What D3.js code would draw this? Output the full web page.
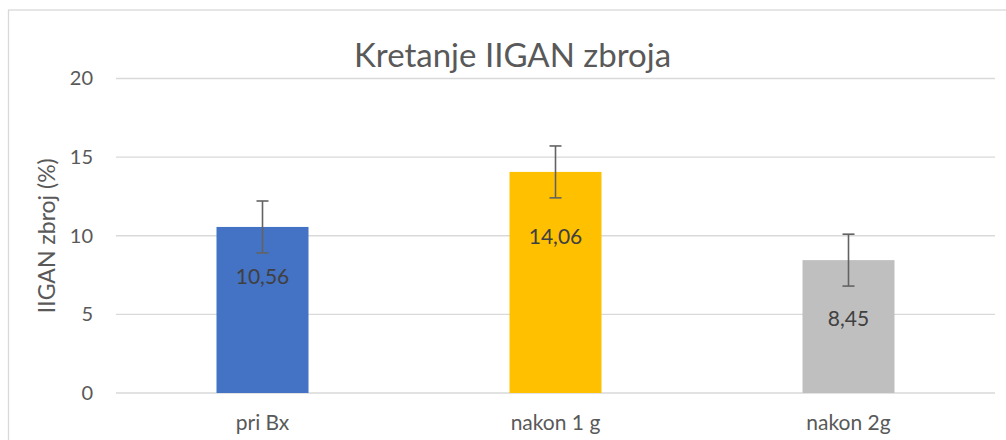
<!DOCTYPE html>
<html>
<head>
<meta charset="utf-8">
<script src="https://cdn.jsdelivr.net/npm/d3@7"></script>
<style>
  html, body { margin: 0; padding: 0; background: #fff; overflow: hidden; }
  text { font-family: Lato, "Open Sans", sans-serif; fill: #595959; }
</style>
</head>
<body>
<svg id="chart"></svg>
<script>
// data
const categories = ["pri Bx", "nakon 1 g", "nakon 2g"];
const values = [10.56, 14.06, 8.45];
const errors = [1.65, 1.65, 1.65];
const labels = ["10,56", "14,06", "8,45"];
const yTicks = [0, 5, 10, 15, 20];
const barColors = ["#4472C4", "#FFC000", "#BFBFBF"];
// how far below the bar top each value label sits (px)
const labelDrop = [49, 65, 58];

const svgWidth = 1006, svgHeight = 440;
const margin = {top: 78.5, right: 11, bottom: 47, left: 116},
    width = svgWidth - margin.left - margin.right,
    height = svgHeight - margin.top - margin.bottom;

const chart = d3.select("#chart")
    .attr("width", svgWidth)
    .attr("height", svgHeight);

// chart area border (runs off the right and bottom of the picture)
chart.append("rect")
    .attr("x", 8.5).attr("y", 10)
    .attr("width", 1020).attr("height", 460)
    .attr("fill", "none")
    .attr("stroke", "#D9D9D9")
    .attr("stroke-width", 1.3);

const g = chart.append("g")
    .attr("transform", `translate(${margin.left},${margin.top})`);

var xScale = d3.scaleBand().domain(categories).range([0, width])
    .paddingInner(0.686).paddingOuter(0.343);
var yScale = d3.scaleLinear().domain([0, 20]).range([height, 0]);

// gridlines
g.append("g").selectAll("line")
    .data(yTicks)
    .enter().append("line")
    .attr("x1", 0).attr("x2", width)
    .attr("y1", d => yScale(d)).attr("y2", d => yScale(d))
    .attr("stroke", "#D9D9D9")
    .attr("stroke-width", 1.3);

// y axis labels
var yAxis = d3.axisLeft(yScale).tickValues(yTicks).tickSize(0).tickPadding(23);
g.append("g").call(yAxis)
    .call(a => a.select(".domain").remove())
    .selectAll("text")
    .style("font-size", "20px")
    .attr("fill", "#595959");

// bars
g.append("g").selectAll("rect")
    .data(values)
    .enter().append("rect")
    .attr("x", (d, i) => xScale(categories[i]))
    .attr("y", d => yScale(d))
    .attr("width", xScale.bandwidth())
    .attr("height", d => yScale(0) - yScale(d))
    .attr("fill", (d, i) => barColors[i]);

// value labels
g.append("g").selectAll("text")
    .data(values)
    .enter().append("text")
    .attr("x", (d, i) => xScale(categories[i]) + xScale.bandwidth() / 2)
    .attr("y", (d, i) => yScale(d) + labelDrop[i])
    .attr("dy", "0.36em")
    .attr("text-anchor", "middle")
    .style("font-size", "21px")
    .style("fill", "#404040")
    .text((d, i) => labels[i]);

// error bars
const errG = g.append("g")
    .attr("stroke", "#636363")
    .attr("stroke-width", 1.6);
values.forEach(function(v, i) {
    const cx = xScale(categories[i]) + xScale.bandwidth() / 2;
    const y1 = yScale(v + errors[i]), y2 = yScale(v - errors[i]);
    errG.append("line").attr("x1", cx).attr("x2", cx).attr("y1", y1).attr("y2", y2);
    errG.append("line").attr("x1", cx - 6).attr("x2", cx + 6).attr("y1", y1).attr("y2", y1);
    errG.append("line").attr("x1", cx - 6).attr("x2", cx + 6).attr("y1", y2).attr("y2", y2);
});

// category labels
g.append("g").selectAll("text")
    .data(categories)
    .enter().append("text")
    .attr("x", d => xScale(d) + xScale.bandwidth() / 2)
    .attr("y", height + 37)
    .attr("text-anchor", "middle")
    .style("font-size", "21px")
    .text(d => d);

// y axis title
chart.append("text")
    .attr("transform", "translate(55," + (margin.top + height / 2) + ") rotate(-90)")
    .attr("text-anchor", "middle")
    .style("font-size", "23px")
    .text("IIGAN zbroj (%)");

// chart title
chart.append("text")
    .attr("x", 512.5)
    .attr("y", 66.5)
    .attr("text-anchor", "middle")
    .style("font-size", "33px")
    .text("Kretanje IIGAN zbroja");
</script>
</body>
</html>
